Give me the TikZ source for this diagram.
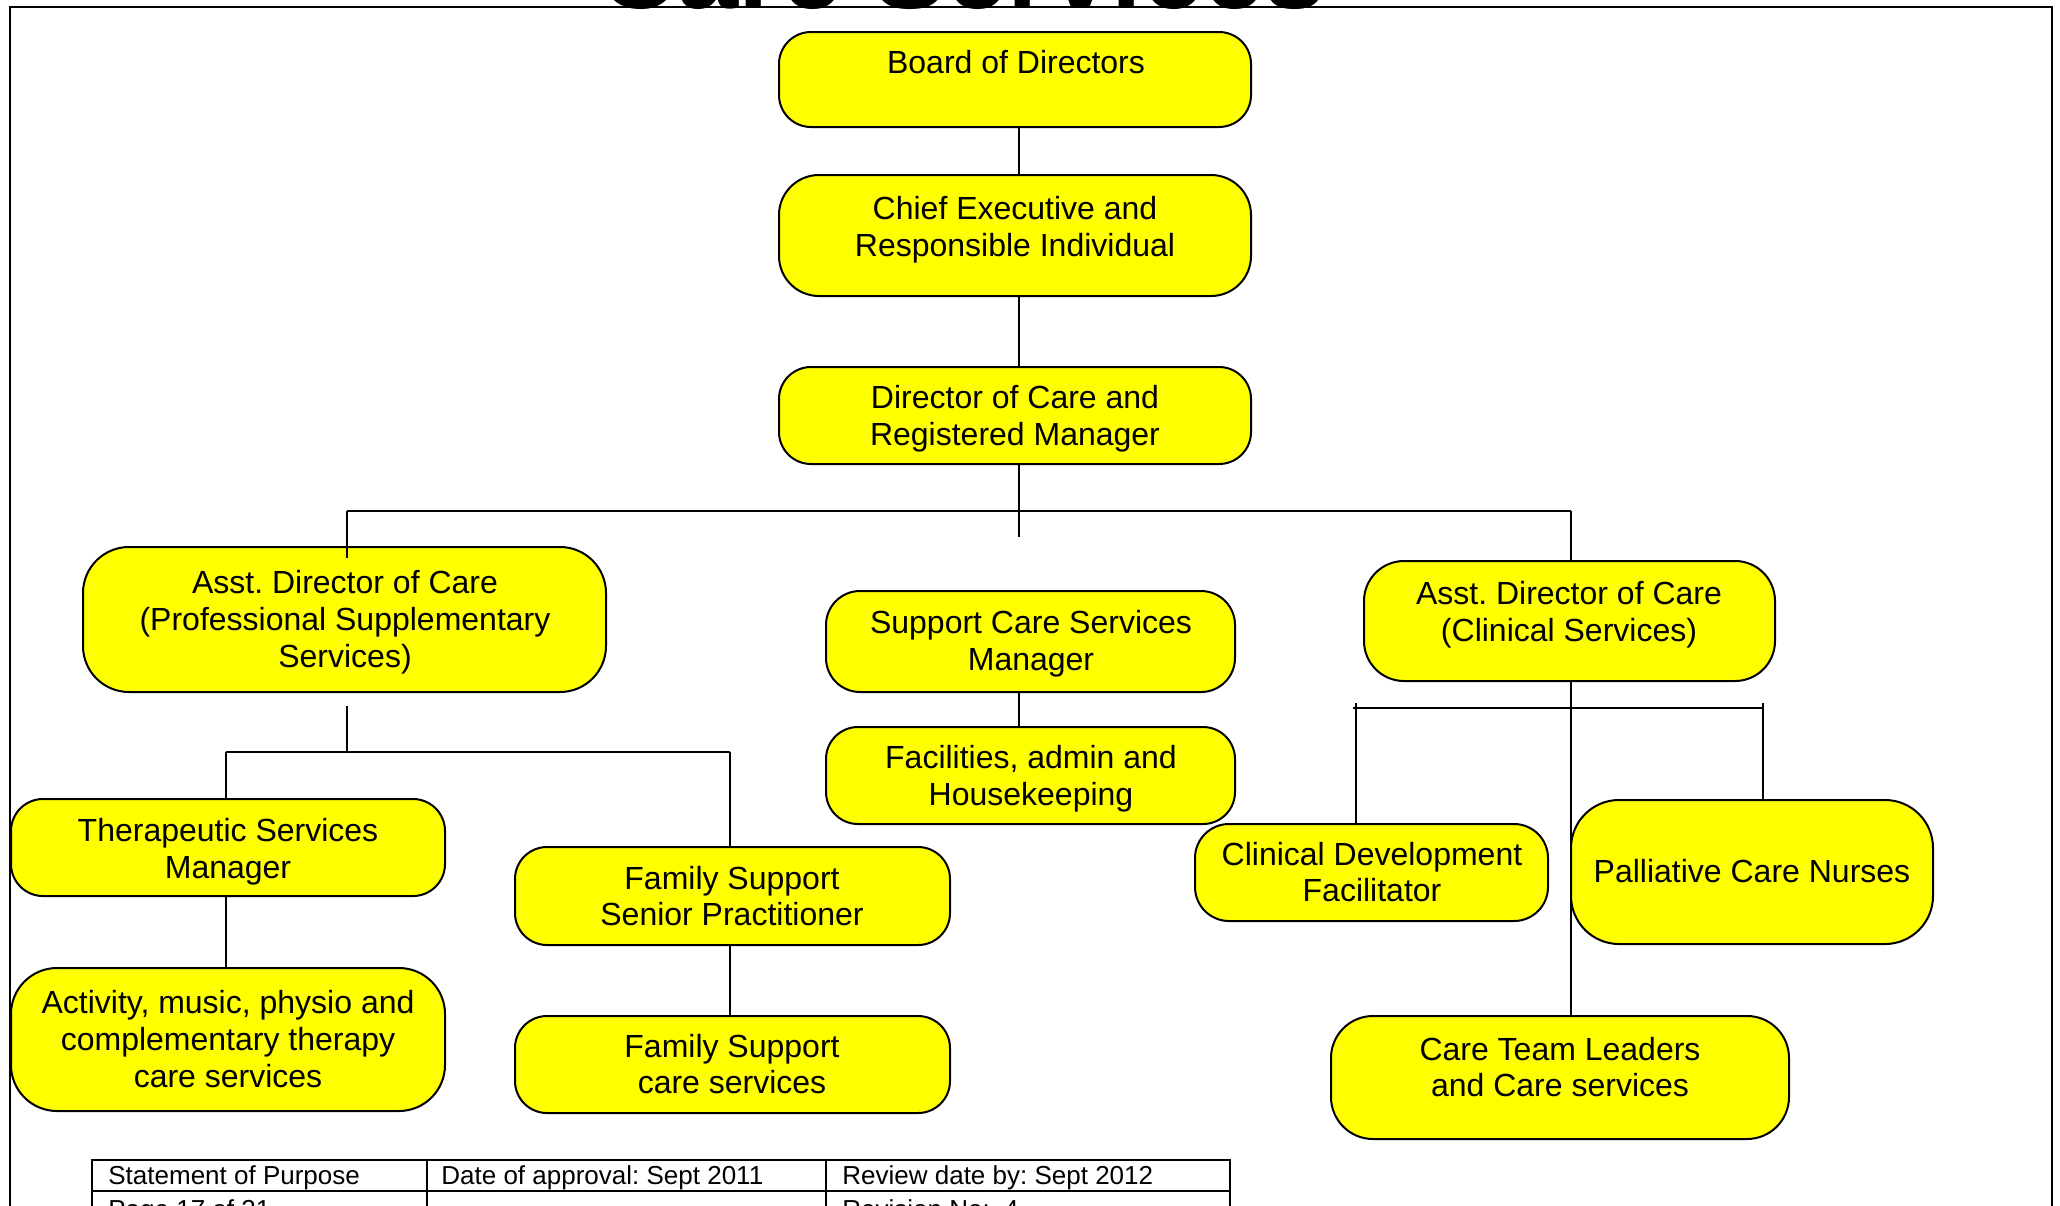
\documentclass[tikz,border=0pt]{standalone}
\usepackage{fontspec}
\setmainfont{Liberation Sans}
\definecolor{boxyellow}{RGB}{255,255,0}
\frenchspacing
\begin{document}
\begin{tikzpicture}[x=0.5pt,y=-0.5pt,
  box/.style={draw=black, line width=1pt, fill=boxyellow, inner sep=0pt},
  lbl/.style={align=center, font=\fontsize{16}{18.4}\selectfont, inner sep=0pt},
  conn/.style={line width=0.75pt},
  frame/.style={line width=0.9pt},
  tbl/.style={line width=0.75pt},
  cell/.style={anchor=base west, font=\fontsize{13}{15}\selectfont, inner sep=0pt}]
\useasboundingbox (0,0) rectangle (2060,1205);
\clip (0,0) rectangle (2060,1205);

% title (cut off at top)
\node[anchor=base, font=\fontsize{55}{60}\selectfont\bfseries, inner sep=0pt] (title) at (962,8) {Care Services};

% page frame
\draw[frame] (10,1300) -- (10,7) -- (2052,7) -- (2052,1300);

% boxes
\node[box, rounded corners=16pt, minimum width=236pt, minimum height=47.5pt] (board) at (1015,79.5) {};
\node[box, rounded corners=20pt, minimum width=236pt, minimum height=60.5pt] (chief) at (1015,235.5) {};
\node[box, rounded corners=16pt, minimum width=236pt, minimum height=48.5pt] (director) at (1015,415.5) {};
\node[box, rounded corners=23pt, minimum width=261.5pt, minimum height=72.5pt] (asstprof) at (344.5,619.5) {};
\node[box, rounded corners=17pt, minimum width=204.5pt, minimum height=50.5pt] (support) at (1030.5,641.5) {};
\node[box, rounded corners=20pt, minimum width=205.5pt, minimum height=60pt] (asstclin) at (1569.5,621) {};
\node[box, rounded corners=16pt, minimum width=204.5pt, minimum height=48.5pt] (facilities) at (1030.5,775.5) {};
\node[box, rounded corners=16pt, minimum width=217pt, minimum height=48.5pt] (therapeutic) at (228,847.5) {};
\node[box, rounded corners=23pt, minimum width=217pt, minimum height=71.5pt] (activity) at (228,1039.5) {};
\node[box, rounded corners=16pt, minimum width=217.5pt, minimum height=49pt] (famsenior) at (732.5,896) {};
\node[box, rounded corners=16pt, minimum width=217.5pt, minimum height=48.5pt] (famcare) at (732.5,1064.5) {};
\node[box, rounded corners=17pt, minimum width=176.5pt, minimum height=48.5pt] (clindev) at (1371.5,872.5) {};
\node[box, rounded corners=24pt, minimum width=181pt, minimum height=72pt] (palliative) at (1752,872) {};
\node[box, rounded corners=21pt, minimum width=229pt, minimum height=61.5pt] (careteam) at (1560,1077.5) {};

% labels
\node[lbl] (boardt) at (1016,62) {Board of Directors};
\node[lbl] (chieft) at (1015,230) {Chief Executive and\\Responsible Individual};
\node[lbl] (directort) at (1015,419) {Director of Care and\\Registered Manager};
\node[lbl] (asstproft) at (345,622) {Asst. Director of Care\\(Professional Supplementary\\Services)};
\node[lbl] (supportt) at (1031,644) {Support Care Services\\Manager};
\node[lbl] (asstclint) at (1569,615) {Asst. Director of Care\\(Clinical Services)};
\node[lbl] (facilitiest) at (1031,779) {Facilities, admin and\\Housekeeping};
\node[lbl] (therapeutict) at (228,852) {Therapeutic Services\\Manager};
\node[lbl] (activityt) at (228,1039) {Activity, music, physio and\\complementary therapy\\care services};
\node[lbl] (famseniort) at (732,896) {Family Support\\Senior Practitioner};
\node[lbl] (famcaret) at (732,1064) {Family Support\\care services};
\node[lbl] (clindevt) at (1372,872) {Clinical Development\\Facilitator};
\node[lbl] (palliativet) at (1752,871) {Palliative Care Nurses};
\node[lbl] (careteamt) at (1560,1067) {Care Team Leaders\\and Care services};

% connector coordinates
\coordinate (trunkend) at (1019,537);
\coordinate (barL) at (347,511);
\coordinate (barR) at (1571,511);
\coordinate (pb) at (347,752);
\coordinate (pbL) at (226,752);
\coordinate (pbR) at (730,752);
\coordinate (cbL) at (1353,708);
\coordinate (cbR) at (1764,708);
\coordinate (ctL) at (1356,703);
\coordinate (ctR) at (1763,703);

% connectors
\draw[conn] (board.south -| trunkend) -- (chief.north -| trunkend);
\draw[conn] (chief.south -| trunkend) -- (director.north -| trunkend);
\draw[conn] (director.south -| trunkend) -- (trunkend);
\draw[conn] (barL) -- (barR);
\draw[conn] (barL) -- ([yshift=-6pt]barL |- asstprof.north);
\draw[conn] (barR) -- (barR |- asstclin.north);

\draw[conn] (asstprof.south -| pb) ++(0,13) -- (pb);
\draw[conn] (pbL) -- (pbR);
\draw[conn] (pbL) -- (pbL |- therapeutic.north);
\draw[conn] (pbR) -- (pbR |- famsenior.north);
\draw[conn] (therapeutic.south -| pbL) -- (activity.north -| pbL);
\draw[conn] (famsenior.south -| pbR) -- (famcare.north -| pbR);

\draw[conn] (support.south -| trunkend) -- (facilities.north -| trunkend);

\draw[conn] (asstclin.south -| barR) -- (careteam.north -| barR);
\draw[conn] (cbL) -- (cbR);
\draw[conn] (ctL) -- (ctL |- clindev.north);
\draw[conn] (ctR) -- (ctR |- palliative.north);

% footer table
\draw[tbl] (92,1300) -- (92,1160) -- (1230,1160) -- (1230,1300);
\draw[tbl] (92,1191) -- (1230,1191);
\draw[tbl] (427,1160) -- (427,1300);
\draw[tbl] (826,1160) -- (826,1300);
\node[cell] (c11) at (108,1184) {Statement of Purpose};
\node[cell] (c12) at (441,1184) {Date of approval: Sept 2011};
\node[cell] (c13) at (842,1184) {Review date by: Sept 2012};
\node[cell] (c21) at (108,1218) {Page 17 of 21};
\node[cell] (c23) at (842,1218) {Revision No:\ \ 4};
\end{tikzpicture}
\end{document}
